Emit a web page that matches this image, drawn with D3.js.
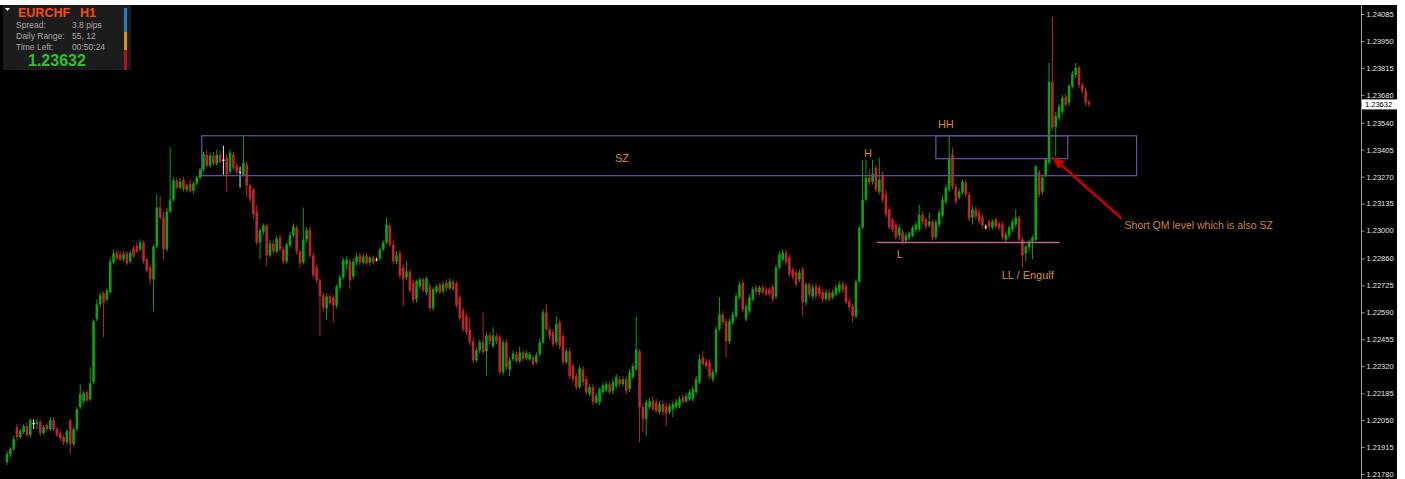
<!DOCTYPE html>
<html><head><meta charset="utf-8">
<script src="https://cdn.jsdelivr.net/npm/d3@7"></script>
<style>html,body{margin:0;padding:0;background:#fff;}svg{display:block;}</style>
</head><body><svg id="c" width="1405" height="479"></svg>
<script>
// ---- OHLC data (EURCHF H1), bar index 0..325 ----
const opens=[1.21840,1.21880,1.21905,1.22015,1.21965,1.21990,1.22020,1.21975,1.22035,1.22030,
1.22040,1.21985,1.22025,1.22005,1.22050,1.22005,1.21985,1.21965,1.21940,1.22050,
1.21930,1.22005,1.22115,1.22145,1.22190,1.22155,1.22240,1.22555,1.22630,1.22685,
1.22655,1.22690,1.22840,1.22890,1.22880,1.22855,1.22885,1.22845,1.22910,1.22925,
1.22905,1.22940,1.22855,1.22815,1.22755,1.22920,1.23115,1.23065,1.22905,1.23095,
1.23155,1.23250,1.23215,1.23255,1.23205,1.23235,1.23200,1.23235,1.23265,1.23305,
1.23380,1.23325,1.23375,1.23335,1.23380,1.23355,1.23365,1.23295,1.23380,1.23325,
1.23295,1.23280,1.23330,1.23225,1.23205,1.23095,1.22940,1.22995,1.23025,1.22875,
1.22935,1.22895,1.22965,1.22905,1.22845,1.22925,1.22975,1.23015,1.22895,1.22840,
1.22955,1.23005,1.22875,1.22815,1.22750,1.22675,1.22610,1.22670,1.22665,1.22625,
1.22715,1.22765,1.22830,1.22845,1.22770,1.22840,1.22875,1.22840,1.22875,1.22840,
1.22865,1.22855,1.22860,1.22905,1.22940,1.23025,1.22930,1.22845,1.22885,1.22815,
1.22765,1.22795,1.22740,1.22655,1.22720,1.22755,1.22690,1.22720,1.22610,1.22695,
1.22730,1.22695,1.22740,1.22710,1.22745,1.22735,1.22665,1.22600,1.22570,1.22505,
1.22445,1.22350,1.22400,1.22440,1.22395,1.22475,1.22420,1.22470,1.22465,1.22290,
1.22440,1.22305,1.22355,1.22380,1.22345,1.22390,1.22360,1.22355,1.22365,1.22340,
1.22380,1.22440,1.22590,1.22505,1.22490,1.22440,1.22540,1.22470,1.22340,1.22395,
1.22320,1.22270,1.22215,1.22305,1.22255,1.22180,1.22215,1.22140,1.22140,1.22190,
1.22200,1.22230,1.22195,1.22220,1.22255,1.22230,1.22255,1.22205,1.22265,1.22305,
1.22395,1.22115,1.22055,1.22115,1.22145,1.22140,1.22090,1.22130,1.22120,1.22090,
1.22105,1.22115,1.22120,1.22165,1.22145,1.22155,1.22155,1.22190,1.22240,1.22365,
1.22345,1.22340,1.22255,1.22290,1.22505,1.22580,1.22545,1.22445,1.22540,1.22570,
1.22665,1.22740,1.22555,1.22595,1.22655,1.22715,1.22690,1.22715,1.22705,1.22705,
1.22720,1.22670,1.22815,1.22855,1.22890,1.22865,1.22805,1.22790,1.22755,1.22805,
1.22640,1.22730,1.22670,1.22720,1.22715,1.22690,1.22655,1.22690,1.22665,1.22680,
1.22695,1.22730,1.22720,1.22645,1.22620,1.22570,1.22745,1.23015,1.23155,1.23265,
1.23245,1.23315,1.23195,1.23280,1.23180,1.23105,1.23055,1.23030,1.22975,1.22990,
1.22950,1.22965,1.22975,1.23005,1.23005,1.23080,1.23055,1.23025,1.23045,1.22965,
1.23030,1.23075,1.23145,1.23205,1.23380,1.23220,1.23165,1.23190,1.23240,1.23180,
1.23065,1.23105,1.23090,1.23065,1.23020,1.23045,1.23015,1.23055,1.23035,1.23030,
1.22955,1.22975,1.23005,1.23030,1.23065,1.22955,1.22885,1.22915,1.22945,1.22955,
1.23295,1.23195,1.23275,1.23340,1.23745,1.23520,1.23565,1.23595,1.23670,1.23640,
1.23720,1.23780,1.23815,1.23730,1.23700,1.23645];
const highs=[1.21895,1.21915,1.21970,1.22030,1.22005,1.22030,1.22035,1.22060,1.22055,1.22055,
1.22050,1.22025,1.22035,1.22065,1.22065,1.22015,1.21995,1.21975,1.22005,1.22055,
1.22015,1.22115,1.22230,1.22195,1.22200,1.22315,1.22555,1.22655,1.22690,1.22695,
1.22710,1.22865,1.22905,1.22905,1.22895,1.22895,1.22895,1.22900,1.22925,1.22940,
1.22955,1.22950,1.22865,1.22825,1.22930,1.23180,1.23175,1.23095,1.23115,1.23415,
1.23265,1.23265,1.23265,1.23270,1.23235,1.23255,1.23245,1.23275,1.23315,1.23395,
1.23405,1.23390,1.23395,1.23405,1.23400,1.23425,1.23380,1.23405,1.23395,1.23340,
1.23320,1.23475,1.23345,1.23235,1.23215,1.23130,1.23015,1.23035,1.23035,1.22955,
1.22950,1.22975,1.22980,1.22920,1.22940,1.22995,1.23035,1.23025,1.22905,1.23115,
1.23015,1.23020,1.22890,1.22830,1.22765,1.22690,1.22685,1.22680,1.22680,1.22730,
1.22780,1.22865,1.22870,1.22860,1.22860,1.22890,1.22890,1.22885,1.22890,1.22875,
1.22875,1.22865,1.22915,1.22950,1.23065,1.23035,1.22955,1.22895,1.22900,1.22830,
1.22845,1.22805,1.22755,1.22755,1.22765,1.22765,1.22770,1.22735,1.22715,1.22730,
1.22740,1.22745,1.22755,1.22760,1.22755,1.22745,1.22680,1.22615,1.22585,1.22565,
1.22465,1.22415,1.22455,1.22590,1.22490,1.22490,1.22515,1.22485,1.22480,1.22455,
1.22455,1.22365,1.22400,1.22395,1.22420,1.22400,1.22400,1.22390,1.22375,1.22390,
1.22455,1.22605,1.22630,1.22520,1.22505,1.22570,1.22555,1.22485,1.22410,1.22410,
1.22335,1.22285,1.22325,1.22320,1.22270,1.22230,1.22230,1.22185,1.22215,1.22235,
1.22245,1.22245,1.22255,1.22280,1.22270,1.22270,1.22270,1.22305,1.22335,1.22570,
1.22405,1.22130,1.22155,1.22160,1.22170,1.22155,1.22145,1.22145,1.22135,1.22135,
1.22145,1.22155,1.22170,1.22180,1.22185,1.22205,1.22220,1.22270,1.22380,1.22395,
1.22360,1.22355,1.22305,1.22520,1.22665,1.22595,1.22560,1.22560,1.22595,1.22685,
1.22745,1.22755,1.22635,1.22680,1.22720,1.22730,1.22725,1.22730,1.22720,1.22715,
1.22730,1.22830,1.22895,1.22905,1.22905,1.22880,1.22815,1.22805,1.22805,1.22820,
1.22740,1.22740,1.22730,1.22735,1.22725,1.22705,1.22705,1.22705,1.22705,1.22730,
1.22745,1.22745,1.22735,1.22660,1.22635,1.22755,1.23025,1.23355,1.23355,1.23305,
1.23355,1.23330,1.23365,1.23295,1.23205,1.23120,1.23065,1.23045,1.23030,1.23005,
1.22990,1.22995,1.23025,1.23045,1.23130,1.23095,1.23065,1.23090,1.23055,1.23055,
1.23105,1.23175,1.23230,1.23480,1.23415,1.23235,1.23210,1.23255,1.23255,1.23195,
1.23120,1.23120,1.23105,1.23080,1.23030,1.23055,1.23055,1.23065,1.23045,1.23045,
1.22995,1.23025,1.23060,1.23105,1.23075,1.22965,1.22930,1.22955,1.22975,1.23330,
1.23305,1.23280,1.23365,1.23840,1.24070,1.23595,1.23635,1.23680,1.23685,1.23735,
1.23800,1.23840,1.23825,1.23740,1.23715,1.23655];
const lows=[1.21825,1.21865,1.21895,1.21945,1.21955,1.21980,1.21965,1.21965,1.22005,1.22005,
1.21970,1.21975,1.21995,1.21995,1.21995,1.21965,1.21945,1.21925,1.21925,1.21880,
1.21920,1.21995,1.22105,1.22130,1.22140,1.22145,1.22230,1.22545,1.22615,1.22465,
1.22645,1.22680,1.22830,1.22850,1.22845,1.22845,1.22825,1.22835,1.22860,1.22885,
1.22895,1.22835,1.22790,1.22730,1.22595,1.22910,1.23055,1.22855,1.22895,1.23085,
1.23145,1.23205,1.23205,1.23195,1.23195,1.23190,1.23185,1.23225,1.23255,1.23295,
1.23315,1.23315,1.23325,1.23325,1.23335,1.23280,1.23195,1.23280,1.23305,1.23280,
1.23215,1.23270,1.23165,1.23140,1.23055,1.22925,1.22855,1.22980,1.22820,1.22865,
1.22880,1.22885,1.22895,1.22830,1.22835,1.22915,1.22965,1.22880,1.22815,1.22830,
1.22940,1.22865,1.22760,1.22735,1.22470,1.22595,1.22555,1.22625,1.22540,1.22610,
1.22700,1.22755,1.22805,1.22705,1.22755,1.22825,1.22825,1.22830,1.22825,1.22825,
1.22830,1.22845,1.22850,1.22895,1.22930,1.22920,1.22830,1.22830,1.22760,1.22620,
1.22750,1.22685,1.22635,1.22640,1.22705,1.22690,1.22675,1.22595,1.22600,1.22685,
1.22680,1.22685,1.22695,1.22700,1.22695,1.22610,1.22545,1.22490,1.22475,1.22425,
1.22335,1.22340,1.22385,1.22380,1.22270,1.22430,1.22410,1.22430,1.22280,1.22275,
1.22300,1.22270,1.22345,1.22335,1.22335,1.22345,1.22350,1.22345,1.22320,1.22330,
1.22370,1.22430,1.22495,1.22455,1.22415,1.22425,1.22405,1.22325,1.22330,1.22255,
1.22240,1.22200,1.22205,1.22225,1.22175,1.22170,1.22125,1.22130,1.22125,1.22175,
1.22190,1.22180,1.22180,1.22210,1.22215,1.22220,1.22180,1.22190,1.22255,1.22295,
1.21940,1.21990,1.21970,1.22105,1.22095,1.22085,1.22080,1.22075,1.22020,1.22080,
1.22065,1.22105,1.22110,1.22130,1.22135,1.22145,1.22145,1.22180,1.22230,1.22320,
1.22305,1.22255,1.22240,1.22275,1.22495,1.22525,1.22365,1.22430,1.22525,1.22560,
1.22655,1.22590,1.22545,1.22585,1.22645,1.22675,1.22675,1.22680,1.22670,1.22670,
1.22640,1.22655,1.22805,1.22845,1.22825,1.22770,1.22755,1.22715,1.22740,1.22570,
1.22625,1.22665,1.22655,1.22655,1.22665,1.22640,1.22645,1.22645,1.22655,1.22670,
1.22685,1.22690,1.22630,1.22600,1.22540,1.22560,1.22735,1.23005,1.23145,1.23225,
1.23230,1.23195,1.23180,1.23140,1.23065,1.23005,1.22990,1.22955,1.22955,1.22930,
1.22940,1.22950,1.22965,1.22990,1.22995,1.23030,1.23005,1.23015,1.22950,1.22955,
1.23015,1.23065,1.23130,1.23195,1.23205,1.23130,1.23155,1.23180,1.23165,1.23045,
1.23030,1.23055,1.23030,1.23010,1.23005,1.23005,1.23005,1.23010,1.23000,1.22955,
1.22940,1.22960,1.22995,1.23015,1.22945,1.22815,1.22845,1.22895,1.22855,1.22945,
1.23165,1.23180,1.23265,1.23330,1.23505,1.23370,1.23550,1.23580,1.23620,1.23625,
1.23710,1.23765,1.23715,1.23685,1.23625,1.23620];
const closes=[1.21880,1.21905,1.21955,1.21965,1.21995,1.22020,1.21975,1.22050,1.22035,1.22040,
1.21985,1.22015,1.22005,1.22050,1.22005,1.21975,1.21960,1.21940,1.21995,1.21930,
1.22005,1.22105,1.22180,1.22185,1.22150,1.22235,1.22545,1.22630,1.22675,1.22640,
1.22700,1.22845,1.22885,1.22860,1.22855,1.22880,1.22835,1.22890,1.22870,1.22895,
1.22940,1.22845,1.22800,1.22755,1.22920,1.23115,1.23065,1.22905,1.23095,1.23155,
1.23250,1.23215,1.23245,1.23205,1.23225,1.23195,1.23235,1.23265,1.23305,1.23385,
1.23325,1.23375,1.23335,1.23380,1.23345,1.23355,1.23280,1.23390,1.23315,1.23295,
1.23295,1.23340,1.23225,1.23155,1.23080,1.22940,1.23000,1.23025,1.22875,1.22935,
1.22895,1.22960,1.22905,1.22845,1.22930,1.22975,1.23020,1.22895,1.22835,1.22955,
1.23000,1.22875,1.22775,1.22750,1.22670,1.22615,1.22670,1.22635,1.22625,1.22720,
1.22765,1.22850,1.22855,1.22750,1.22845,1.22870,1.22840,1.22870,1.22835,1.22865,
1.22840,1.22855,1.22905,1.22940,1.23030,1.22930,1.22845,1.22875,1.22775,1.22755,
1.22795,1.22700,1.22650,1.22745,1.22755,1.22700,1.22760,1.22610,1.22705,1.22720,
1.22690,1.22730,1.22710,1.22745,1.22705,1.22625,1.22560,1.22505,1.22490,1.22440,
1.22350,1.22400,1.22440,1.22390,1.22475,1.22445,1.22475,1.22445,1.22290,1.22440,
1.22315,1.22350,1.22385,1.22345,1.22390,1.22355,1.22385,1.22380,1.22330,1.22375,
1.22440,1.22590,1.22505,1.22470,1.22430,1.22530,1.22420,1.22340,1.22395,1.22270,
1.22255,1.22215,1.22310,1.22240,1.22190,1.22215,1.22140,1.22170,1.22205,1.22225,
1.22230,1.22190,1.22240,1.22265,1.22230,1.22255,1.22195,1.22290,1.22320,1.22405,
1.22115,1.22055,1.22140,1.22145,1.22105,1.22095,1.22130,1.22090,1.22080,1.22120,
1.22130,1.22140,1.22155,1.22140,1.22170,1.22190,1.22205,1.22255,1.22355,1.22330,
1.22320,1.22270,1.22290,1.22505,1.22580,1.22540,1.22445,1.22545,1.22580,1.22670,
1.22730,1.22605,1.22620,1.22665,1.22705,1.22690,1.22715,1.22690,1.22680,1.22680,
1.22655,1.22815,1.22880,1.22890,1.22840,1.22780,1.22770,1.22730,1.22790,1.22640,
1.22730,1.22680,1.22715,1.22670,1.22680,1.22655,1.22690,1.22655,1.22690,1.22715,
1.22730,1.22705,1.22640,1.22615,1.22570,1.22745,1.23015,1.23155,1.23265,1.23240,
1.23285,1.23205,1.23255,1.23155,1.23080,1.23015,1.23005,1.22965,1.23015,1.22945,
1.22975,1.22985,1.23015,1.23030,1.23080,1.23045,1.23020,1.23045,1.22965,1.23040,
1.23090,1.23155,1.23215,1.23365,1.23220,1.23145,1.23195,1.23245,1.23180,1.23060,
1.23105,1.23070,1.23045,1.23025,1.23020,1.23020,1.23045,1.23020,1.23015,1.22965,
1.22980,1.23015,1.23045,1.23065,1.22955,1.22875,1.22920,1.22945,1.22965,1.23320,
1.23180,1.23265,1.23355,1.23745,1.23515,1.23575,1.23620,1.23665,1.23630,1.23725,
1.23785,1.23815,1.23730,1.23700,1.23640,1.23632];

// ---- price axis ticks ----
const tickLabels=[1.24085,1.23950,1.23815,1.23680,1.23540,1.23405,1.23270,1.23135,1.23000,
1.22860,1.22725,1.22590,1.22455,1.22320,1.22185,1.22050,1.21915,1.21780];

// ---- annotations (bar index / price) ----
const zoneStart=[58.5,279];
const zoneEnd=[339.3,318.6];
const zoneTop=[1.23475,1.23475];
const zoneBottom=[1.23275,1.23360];
const labelTexts=["SZ","H","HH","L","LL / Engulf"];
const labelIdx=[184.7,258.6,282,268.2,306.6];
const labelPrice=[1.23365,1.23390,1.23535,1.22880,1.22775];
const levelIdx=[261.3,316.2];
const levelPrice=1.22940;
const arrowFromIdx=334.8, arrowFromPrice=1.23060;
const arrowToIdx=313.8, arrowToPrice=1.23370;
const noteText="Short QM level which is also SZ";
const noteIdx=335.7, notePrice=1.23030;

// ---- info panel ----
const symbol="EURCHF", timeframe="H1";
const infoLabels=["Spread:","Daily Range:","Time Left:"];
const infoValues=["3.8 pips","55, 12","00:50:24"];
const bidPrice="1.23632";

const svg=d3.select("#c");
const F="'Liberation Sans', Arial, sans-serif";

svg.append("rect").attr("x",0).attr("y",5).attr("width",1397).attr("height",474).attr("fill","#000");

const x=d3.scaleLinear().domain([0,325]).range([7,1089]);
const y=d3.scaleLinear().domain([1.21780,1.24085]).range([474,14]);

const GREEN="#12a012", RED="#b8282a";
const idx=d3.range(opens.length);
const g=svg.append("g");
function col(i){ if(Math.abs(opens[i]-closes[i])<1e-7) return "#e8e8e8"; return closes[i]>opens[i]?GREEN:RED; }
g.selectAll("line.w").data(idx).join("line").attr("class","w")
 .attr("x1",i=>x(i)).attr("x2",i=>x(i)).attr("y1",i=>y(highs[i])).attr("y2",i=>y(lows[i]))
 .attr("stroke",col).attr("stroke-width",1);
g.selectAll("rect.b").data(idx).join("rect").attr("class","b")
 .attr("x",i=>x(i)-1.3).attr("width",2.6)
 .attr("y",i=>Math.min(y(opens[i]),y(closes[i])))
 .attr("height",i=>Math.max(1,Math.abs(y(opens[i])-y(closes[i]))))
 .attr("fill",col);

// zones
const zg=svg.append("g");
zg.selectAll("rect").data(zoneStart.map((s,k)=>k)).join("rect")
 .attr("x",k=>x(zoneStart[k])).attr("width",k=>x(zoneEnd[k])-x(zoneStart[k]))
 .attr("y",k=>y(zoneTop[k])).attr("height",k=>y(zoneBottom[k])-y(zoneTop[k]))
 .attr("fill","none").attr("stroke","#5d4f9e").attr("stroke-width",1.3);

// level line
svg.append("line").attr("x1",x(levelIdx[0])).attr("x2",x(levelIdx[1]))
 .attr("y1",y(levelPrice)).attr("y2",y(levelPrice)).attr("stroke","#c0608a").attr("stroke-width",1.3);

// labels
svg.selectAll("text.lab").data(labelTexts).join("text").attr("class","lab")
 .attr("x",(d,k)=>x(labelIdx[k])).attr("y",(d,k)=>y(labelPrice[k]))
 .attr("text-anchor","middle").attr("dominant-baseline","central")
 .attr("font-family",F).attr("font-size",11).attr("fill","#d88c1c").text(d=>d);

// arrow
const ax1=x(arrowFromIdx), ay1=y(arrowFromPrice), ax2=x(arrowToIdx), ay2=y(arrowToPrice);
const ang=Math.atan2(ay2-ay1,ax2-ax1), L=13, W=5;
const bx=ax2-L*Math.cos(ang), by=ay2-L*Math.sin(ang);
svg.append("line").attr("x1",ax1).attr("y1",ay1).attr("x2",bx).attr("y2",by)
 .attr("stroke","#c80000").attr("stroke-width",2.5);
svg.append("path").attr("d",`M${ax2},${ay2}L${bx+W*Math.sin(ang)},${by-W*Math.cos(ang)}L${bx-W*Math.sin(ang)},${by+W*Math.cos(ang)}Z`)
 .attr("fill","#c80000");
svg.append("text").attr("x",x(noteIdx)).attr("y",y(notePrice)).attr("dominant-baseline","central")
 .attr("font-family",F).attr("font-size",10.5).attr("fill","#c9843f").text(noteText);

// price axis
svg.append("line").attr("x1",1361.5).attr("x2",1361.5).attr("y1",5).attr("y2",479).attr("stroke","#9a9a9a").attr("stroke-width",1);
const axis=d3.axisRight(y).tickValues(tickLabels).tickSize(3).tickPadding(2).tickFormat(d3.format(".5f"));
const ag=svg.append("g").attr("transform","translate(1361.5,0)").call(axis);
ag.select(".domain").remove();
ag.selectAll(".tick line").attr("stroke","#9a9a9a");
ag.selectAll(".tick text").attr("fill","#e0e0e0").attr("font-family",F).attr("font-size",7.5);
// current price label
const cy=y(closes[closes.length-1]);
svg.append("rect").attr("x",1362).attr("y",cy-5).attr("width",35).attr("height",10).attr("fill","#fff");
svg.append("text").attr("x",1365).attr("y",cy).attr("dominant-baseline","central")
 .attr("font-family",F).attr("font-size",7.5).attr("fill","#000").text(d3.format(".5f")(closes[closes.length-1]));

// info panel
const p=svg.append("g");
p.append("rect").attr("x",3).attr("y",5).attr("width",128).attr("height",65).attr("fill","#1c1c1c");
p.append("path").attr("d","M5,8L10,8L7.5,11Z").attr("fill","#fff");
p.append("text").attr("x",18).attr("y",16.5).attr("font-family",F).attr("font-weight","bold").attr("font-size",12.5).attr("fill","#ff4a0a").text(symbol);
p.append("text").attr("x",80).attr("y",16.5).attr("font-family",F).attr("font-weight","bold").attr("font-size",12.5).attr("fill","#ff4a0a").text(timeframe);
p.selectAll("text.il").data(infoLabels).join("text").attr("class","il")
 .attr("x",16).attr("y",(d,k)=>28+k*11).attr("font-family",F).attr("font-size",8.5).attr("fill","#a8a8a8").text(d=>d);
p.selectAll("text.iv").data(infoValues).join("text").attr("class","iv")
 .attr("x",72).attr("y",(d,k)=>28+k*11).attr("font-family",F).attr("font-size",8.5).attr("fill","#a8a8a8").text(d=>d);
p.append("text").attr("x",28).attr("y",66).attr("font-family",F).attr("font-weight","bold").attr("font-size",16).attr("fill","#30c030").text(bidPrice);
p.append("rect").attr("x",124).attr("y",8).attr("width",3).attr("height",24).attr("fill","#2a78c8");
p.append("rect").attr("x",124).attr("y",32).attr("width",3).attr("height",18).attr("fill","#d8901e");
p.append("rect").attr("x",124).attr("y",50).attr("width",3).attr("height",20).attr("fill","#b01515");
</script></body></html>
